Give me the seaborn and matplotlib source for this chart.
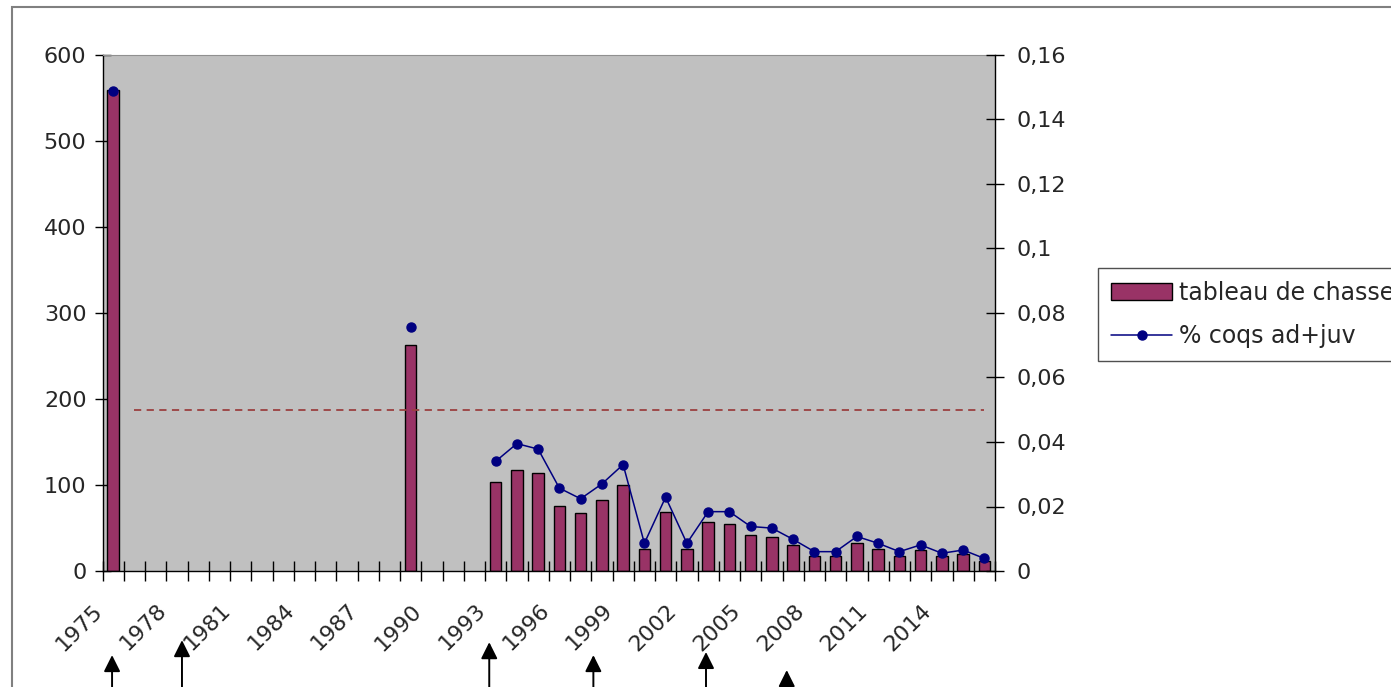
import matplotlib

matplotlib.use("Agg")
import matplotlib.pyplot as plt
import numpy as np
import pandas as pd
import seaborn as sns
from matplotlib.patches import Rectangle
from matplotlib.transforms import ScaledTranslation

# data
years = list(range(1975, 2017))
obs_years = [1975, 1989, 1993, 1994, 1995, 1996, 1997, 1998, 1999, 2000,
             2001, 2002, 2003, 2004, 2005, 2006, 2007, 2008, 2009, 2010,
             2011, 2012, 2013, 2014, 2015, 2016]
tableau = [559, 263, 104, 117, 114, 76, 68, 83, 100, 26,
           69, 26, 57, 55, 42, 40, 30, 18, 18, 32,
           26, 18, 25, 17, 20, 12]
pct_coqs = [0.1488, 0.0758, 0.034, 0.0395, 0.0378, 0.0257, 0.0224, 0.027, 0.033, 0.0086,
            0.0229, 0.0086, 0.0184, 0.0184, 0.0138, 0.0133, 0.0098, 0.006, 0.006, 0.0107,
            0.0086, 0.006, 0.0081, 0.0055, 0.0065, 0.0039]
threshold = 0.05
label_years = years[:-2:3]
left_ticks = [0, 100, 200, 300, 400, 500, 600]
right_ticks = [0, 0.02, 0.04, 0.06, 0.08, 0.1, 0.12, 0.14, 0.16]
legend_labels = ["tableau de chasse", "% coqs ad+juv"]

# hand-drawn event arrows under the axis (category position, tip height in axes fraction)
arrow_pos = [-0.05, 3.24, 17.7, 22.6, 27.9, 31.7]
arrow_tip = [-0.163, -0.134, -0.138, -0.163, -0.157, -0.192]

df = pd.DataFrame({"year": obs_years, "tableau": tableau, "pct": pct_coqs})
line_df = df.set_index("year").reindex(years)

sns.set_style("ticks")
plt.rcParams["font.family"] = ["DejaVu Sans"]
plt.rcParams["font.size"] = 16

fig = plt.figure(figsize=(13.91, 6.87), dpi=100)
ax = fig.add_axes([102.5 / 1391, 1 - 571 / 687, (995 - 102.5) / 1391, (571 - 55) / 687])
ax.set_facecolor("#C0C0C0")

sns.barplot(data=df, x="year", y="tableau", order=years, color="#993366",
            saturation=1, width=0.55, edgecolor="black", linewidth=1,
            errorbar=None, ax=ax)
ax.set_xlim(-0.5, len(years) - 0.5)
ax.set_ylim(0, 600)
ax.set_xlabel("")
ax.set_ylabel("")

ax2 = ax.twinx()
xpos = np.arange(len(years))
ax2.hlines(threshold, 1, len(years) - 1, colors="#9b4040", linestyles=(0, (4, 3)), lw=1.3)
ax2.plot(xpos, line_df["pct"].to_numpy(), color="#000080", lw=1.1, marker="o",
         ms=6.5, mfc="#000080", mec="#000080")
ax2.set_ylim(0, 0.16)

# axes styling
ax.set_yticks(left_ticks, [str(v) for v in left_ticks])
ax2.set_yticks(right_ticks, [f"{round(v, 2):g}".replace(".", ",") for v in right_ticks])
bounds = np.arange(len(years) + 1) - 0.5
ax.set_xticks(bounds, minor=True)
ax.set_xticks(bounds[:-2:3][:len(label_years)], [str(y) for y in label_years])
ax.tick_params(axis="x", which="both", direction="inout", length=14, width=1,
               color="black", pad=14, labelsize=16)
ax.tick_params(axis="y", direction="inout", length=11, width=1, color="black",
               pad=6, labelsize=16)
ax2.tick_params(axis="y", direction="inout", length=13, width=1, color="black",
                pad=9, labelsize=16)
shift = ScaledTranslation(-10 / 100, 0, fig.dpi_scale_trans)
for lab in ax.get_xticklabels():
    lab.set_rotation(45)
    lab.set_ha("right")
    lab.set_va("top")
    lab.set_rotation_mode("anchor")
    lab.set_transform(lab.get_transform() + shift)

for s in ["left", "bottom"]:
    ax.spines[s].set_color("black")
    ax.spines[s].set_linewidth(1)
ax.spines["top"].set_color("#909090")
ax.spines["right"].set_visible(False)
for s in ["left", "bottom", "top"]:
    ax2.spines[s].set_visible(False)
ax2.spines["right"].set_color("black")
ax2.spines["right"].set_linewidth(1)

for p, t in zip(arrow_pos, arrow_tip):
    ax.annotate("", xy=(p, t), xycoords=ax.get_xaxis_transform(),
                xytext=(p, -0.35), textcoords=ax.get_xaxis_transform(),
                arrowprops=dict(arrowstyle="-|>,head_length=0.5,head_width=0.25",
                                color="black", lw=1.4, mutation_scale=20,
                                shrinkA=0, shrinkB=0),
                annotation_clip=False)

fig.legend([ax.containers[0], ax2.lines[0]], legend_labels,
           loc="upper left", bbox_to_anchor=(1098 / 1391, 1 - 268 / 687),
           bbox_transform=fig.transFigure, borderaxespad=0, fontsize=17,
           frameon=True, fancybox=False, framealpha=1, edgecolor="#505050",
           handlelength=2.6, handletextpad=0.3, borderpad=0.55, labelspacing=0.8)

# chart area border (runs off the right and bottom edges)
fig.patches.append(Rectangle((12 / 1391, -0.1), 1.2, 1 - 7 / 687 + 0.1,
                             transform=fig.transFigure, fill=False,
                             edgecolor="#808080", lw=1.5))

fig.savefig("out.png", dpi=100)
